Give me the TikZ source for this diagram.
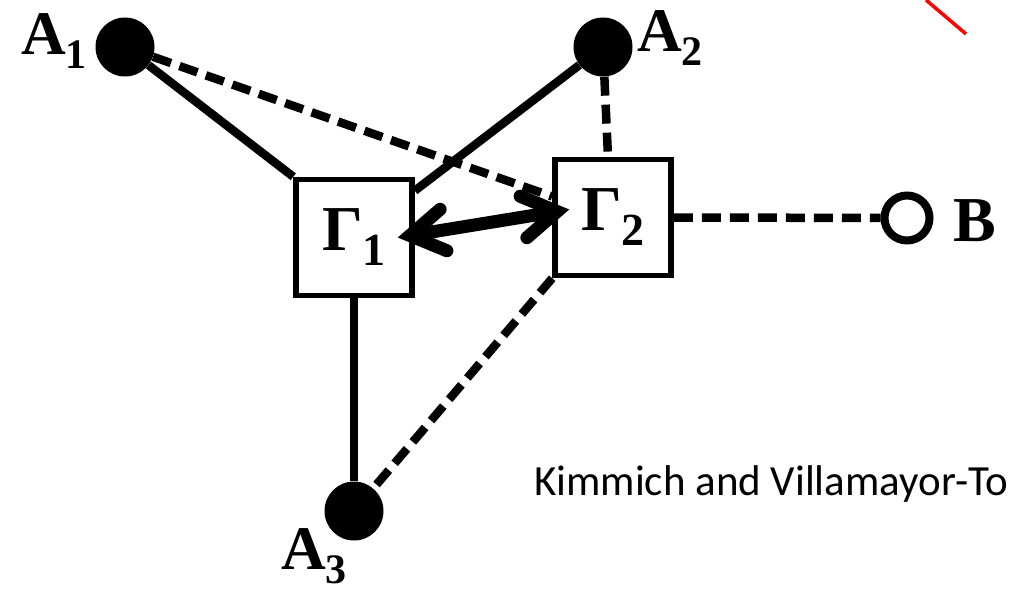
\documentclass[tikz,border=0pt]{standalone}
\usepackage{fontspec}
\setmainfont{Liberation Serif}
\newfontfamily\calib{Carlito}
\usetikzlibrary{arrows.meta}
\newcommand\alab[1]{\textbf{\fontsize{62}{62}\selectfont A\fontsize{42}{42}\selectfont\raisebox{-14pt}{#1}}}
\newcommand\glab[1]{\textbf{\fontsize{64}{64}\selectfont Γ\fontsize{46}{46}\selectfont\raisebox{-15pt}{#1}}}
\newcommand\blab{\textbf{\fontsize{64}{64}\selectfont B}}
\begin{document}
\begin{tikzpicture}[x=1pt,y=-1pt,
  dot/.style={circle,fill=black,inner sep=0pt,minimum size=59pt},
  odot/.style={circle,draw=black,line width=8pt,fill=white,inner sep=0pt,minimum size=45pt},
  gbox/.style={rectangle,draw=black,line width=5.5pt,fill=white,minimum width=116pt,minimum height=116pt,inner sep=0pt},
  sline/.style={line width=8.5pt},
  dline/.style={line width=8.5pt,dash pattern=on 19pt off 9pt},
  lab/.style={inner sep=0pt,anchor=base west},
  barb/.tip={Straight Barb[length=34pt,width=42pt,line cap=round,line join=miter]}]
\useasboundingbox (0,0) rectangle (1011,591);
% nodes
\node[dot] (A1) at (125,47) {};
\node[dot] (A2) at (603,47) {};
\node[dot] (A3) at (354,511) {};
\node[odot] (B) at (907,218) {};
\node[gbox] (G1) at (354,237.5) {\glab{1}};
\node[gbox] (G2) at (613,217.5) {\glab{2}};
% labels
\node[lab] (lA1) at (21,55) {\alab{1}};
\node[lab] (lA2) at (637,52) {\alab{2}};
\node[lab] (lA3) at (281,569) {\alab{3}};
\node[lab] (lB) at (953,241) {\blab};
\node[lab,font=\calib\fontsize{43}{43}\selectfont] (cite) at (534,495) {Kimmich and Villamayor-To};
% connectors
\draw[sline] (A1) -- (G1.north west);
\draw[dline] (A1) -- ([yshift=21pt]G2.west);
\draw[sline] (A2) -- ([yshift=-14pt]G1.north east);
\draw[dline] (A2) -- ([xshift=-5pt]G2.north);
\draw[dline] (G2.east) -- (B);
\draw[sline] (G1.south) -- (A3);
\draw[dline] (G2.south west) -- (A3);
\draw[line width=13pt,barb-barb] ([xshift=-17pt]G1.east) -- ([xshift=17pt,yshift=8pt]G2.west);
% red fragment
\coordinate (r1) at (926,0);
\coordinate (r2) at (966,34);
\draw[red,line width=3.5pt] (r1) -- (r2);
\end{tikzpicture}
\end{document}
